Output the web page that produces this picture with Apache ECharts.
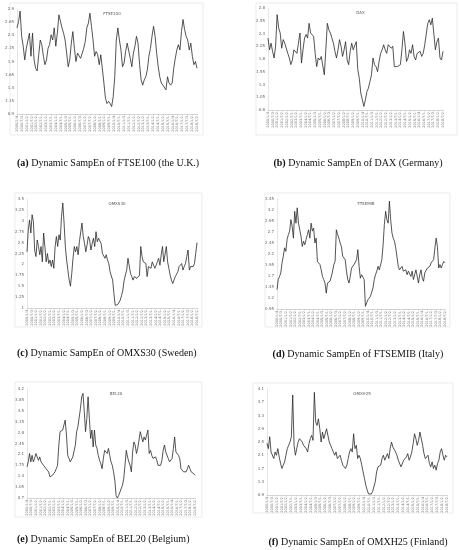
<!DOCTYPE html>
<html>
<head>
<meta charset="utf-8">
<script src="https://cdn.jsdelivr.net/npm/echarts/dist/echarts.min.js"></script>
<style>
  html, body { margin: 0; padding: 0; background: #fff; }
  #chart { width: 460px; height: 550px; }
</style>
</head>
<body>
<div id="chart"></div>
<script>
// date tick labels along the bottom of each panel
var tickLabels = ['2000/1/4','2000/7/3','2001/1/2','2001/7/2','2002/1/2','2002/7/1','2003/1/2','2003/7/1',
  '2004/1/2','2004/7/1','2005/1/3','2005/7/1','2006/1/2','2006/7/3','2007/1/2','2007/7/2','2008/1/2',
  '2008/7/1','2009/1/2','2009/7/1','2010/1/4','2010/7/1','2011/1/3','2011/7/1','2012/1/2','2012/7/2',
  '2013/1/2','2013/7/1','2014/1/2','2014/7/1','2015/1/2','2015/7/1','2016/1/4','2016/7/1','2017/1/2',
  '2017/7/3','2018/1/2','2018/7/2'];

var names = ['FTSE100', 'DAX', 'OMXS30', 'FTSEMIB', 'BEL20', 'OMXH25'];
var captions = ['FTSE100 (the U.K.)', 'DAX (Germany)', 'OMXS30 (Sweden)', 'FTSEMIB (Italy)', 'BEL20 (Belgium)', 'OMXH25 (Finland)'];
var letters = ['a', 'b', 'c', 'd', 'e', 'f'];

// y axis ranges [min, max, step]
var yRanges = [[0.9, 2.9, 0.25], [0.8, 2.8, 0.25], [1, 3.5, 0.25], [0.95, 3.45, 0.25], [0.7, 4.2, 0.35], [0.9, 4.1, 0.4]];

// dynamic SampEn values
var ftse100 = [2.54, 2.66, 2.86, 2.38, 2.19, 1.93, 2.15, 2.12, 2.44, 2.0, 2.44, 1.93, 1.77, 1.72, 2.03, 2.31, 2.22, 2.0, 1.84, 1.93,
  2.15, 2.22, 2.41, 2.31, 2.54, 2.19, 2.44, 2.79, 2.79, 2.54, 2.44, 2.31, 2.06, 1.80, 1.93, 2.25, 2.47, 2.15, 1.90, 2.06,
  2.03, 1.96, 1.93, 2.15, 2.28, 2.54, 2.63, 2.82, 2.57, 2.31, 2.0, 2.09, 2.03, 1.84, 2.03, 2.0, 1.49, 1.20, 1.10, 1.14,
  1.10, 1.04, 1.23, 1.61, 2.31, 2.54, 2.31, 2.12, 1.80, 1.87, 2.09, 2.25, 2.28, 1.96, 1.80, 2.06, 2.19, 2.38, 2.25, 1.84,
  1.55, 1.45, 1.55, 1.61, 1.74, 2.0, 2.15, 2.38, 2.57, 2.38, 2.06, 1.80, 1.61, 1.49, 1.45, 1.42, 1.36, 1.61, 1.49, 1.45,
  1.49, 1.77, 1.96, 2.12, 2.22, 2.12, 2.47, 2.70, 2.51, 2.38, 2.31, 2.12, 2.25, 2.0, 1.84, 1.90, 1.77];

var dax = [2.21, 1.98, 2.11, 1.95, 1.82, 2.05, 2.67, 2.41, 2.31, 2.01, 2.18, 2.11, 2.08, 1.91, 1.82, 1.69, 1.78, 1.98, 2.01, 1.91,
  2.11, 2.31, 1.72, 1.98, 2.21, 2.28, 2.21, 2.50, 2.31, 2.34, 2.24, 1.91, 1.65, 1.82, 1.78, 1.85, 1.88, 1.49, 1.98, 2.50,
  2.37, 2.31, 2.34, 2.11, 1.95, 1.82, 1.98, 2.18, 2.05, 1.85, 1.98, 2.14, 1.78, 1.69, 1.95, 2.11, 1.98, 1.98, 2.14, 1.59,
  1.42, 1.13, 1.00, 0.87, 1.00, 1.16, 1.23, 1.36, 1.49, 1.82, 1.69, 1.65, 1.55, 1.75, 1.91, 1.98, 2.08, 1.98, 1.91, 2.08,
  2.11, 2.01, 2.05, 1.65, 1.62, 1.65, 1.65, 1.69, 1.98, 2.34, 2.11, 1.75, 1.82, 1.98, 1.91, 2.08, 1.85, 1.78, 1.91, 1.88,
  1.95, 1.85, 1.91, 2.08, 2.11, 2.50, 2.57, 2.47, 2.60, 2.57, 1.98, 2.14, 2.21, 1.82, 1.78, 1.95];

var omxs30 = [2.29, 2.79, 3.02, 2.72, 3.14, 2.98, 2.33, 2.18, 2.56, 2.41, 2.22, 2.41, 2.06, 2.72, 2.41, 2.06, 2.25, 2.02, 2.10, 1.95,
  2.10, 1.91, 2.41, 2.64, 2.41, 2.68, 2.56, 3.10, 3.41, 2.95, 2.41, 2.10, 1.87, 1.64, 1.50, 1.79, 2.14, 2.41, 2.29, 2.41,
  2.22, 2.52, 2.48, 2.95, 2.64, 2.48, 2.29, 2.45, 2.64, 2.56, 2.33, 2.48, 2.60, 2.41, 2.75, 2.52, 2.60, 2.56, 2.48, 2.25,
  2.29, 2.14, 2.22, 2.10, 2.02, 1.83, 1.87, 1.64, 1.33, 1.06, 1.04, 1.08, 1.06, 1.18, 1.29, 1.41, 1.64, 1.68, 1.87, 2.14,
  2.18, 1.79, 1.72, 1.64, 1.72, 1.75, 1.68, 1.72, 1.75, 2.41, 2.18, 2.06, 2.10, 2.02, 1.72, 1.95, 1.98, 1.91, 2.06, 2.02,
  1.91, 1.98, 2.06, 2.14, 1.98, 2.22, 2.41, 2.06, 2.10, 2.41, 2.06, 1.91, 1.75, 1.64, 1.56, 1.60, 1.72, 1.68, 1.83, 1.95,
  1.98, 2.02, 1.87, 1.95, 2.02, 2.18, 2.33, 1.87, 1.95, 1.98, 1.95, 2.02, 2.25, 2.50];

var ftsemib = [1.39, 1.62, 1.69, 1.77, 2.00, 2.15, 2.34, 2.26, 2.53, 2.64, 2.72, 2.98, 2.83, 2.56, 3.17, 2.90, 3.25, 2.90, 2.75, 2.60,
  2.37, 2.49, 2.41, 2.53, 2.64, 2.75, 2.56, 2.90, 2.72, 2.79, 2.45, 2.56, 2.03, 2.00, 1.96, 1.84, 1.69, 1.62, 1.54, 1.31,
  1.54, 1.58, 1.58, 1.69, 1.81, 1.96, 2.03, 2.75, 2.64, 2.56, 2.45, 2.37, 2.15, 2.11, 2.07, 1.81, 1.62, 1.54, 1.69, 1.88,
  1.92, 1.96, 2.00, 2.07, 2.30, 1.92, 1.65, 1.73, 1.73, 1.62, 1.01, 1.09, 1.16, 1.20, 1.24, 1.28, 1.43, 1.62, 1.73, 1.81,
  1.92, 1.84, 1.88, 2.07, 2.41, 2.87, 3.17, 2.98, 2.90, 3.40, 2.98, 2.68, 2.56, 2.49, 2.34, 2.30, 1.92, 1.84, 1.81, 1.92,
  1.81, 1.77, 1.84, 1.73, 1.81, 1.84, 1.69, 1.81, 1.62, 1.73, 1.84, 1.69, 1.54, 1.73, 1.84, 1.65, 1.58, 1.77, 1.81, 1.88,
  1.84, 1.92, 2.00, 2.03, 2.07, 2.34, 2.56, 2.37, 1.88, 1.96, 1.88, 1.96, 2.03, 2.00];

var bel20 = [1.70, 1.86, 2.13, 1.86, 2.07, 1.86, 1.97, 2.13, 2.07, 1.91, 2.02, 1.86, 1.80, 1.75, 1.80, 1.64, 1.59, 1.54, 1.38, 1.32,
  1.43, 1.48, 1.54, 1.64, 1.75, 2.40, 2.83, 2.88, 2.88, 2.83, 3.20, 2.72, 2.07, 1.97, 1.86, 1.91, 2.02, 2.07, 2.40, 2.83,
  2.99, 3.04, 3.58, 3.95, 4.06, 3.47, 2.83, 3.25, 3.95, 3.25, 2.61, 2.88, 2.34, 2.88, 2.40, 2.29, 2.07, 1.91, 1.80, 1.64,
  1.97, 2.23, 2.23, 2.13, 2.29, 2.07, 1.86, 1.75, 1.54, 1.27, 0.78, 0.70, 0.78, 0.89, 0.95, 1.11, 1.32, 1.75, 2.23, 2.02,
  1.86, 1.75, 1.54, 2.18, 2.50, 2.40, 2.13, 2.29, 2.56, 2.83, 2.66, 2.50, 2.66, 2.56, 2.72, 2.88, 2.13, 2.23, 2.07, 1.97,
  1.91, 2.02, 1.91, 1.75, 1.70, 1.75, 1.91, 2.23, 2.40, 2.18, 2.13, 1.97, 1.86, 1.91, 1.97, 2.29, 2.66, 2.18, 2.23, 2.07,
  1.97, 1.64, 1.59, 1.54, 1.59, 1.54, 1.64, 1.75, 1.64, 1.54, 1.59, 1.48, 1.43];

var omxh25 = [2.46, 2.30, 2.66, 2.20, 2.15, 2.00, 2.20, 2.10, 2.30, 2.05, 1.86, 1.70, 1.80, 1.90, 2.10, 2.30, 2.40, 2.50, 2.66, 3.92,
  2.40, 2.10, 2.16, 2.50, 2.60, 2.55, 2.50, 2.40, 2.35, 2.30, 2.20, 2.45, 2.60, 2.70, 2.55, 4.00, 3.10, 3.00, 3.20, 2.90,
  2.50, 2.80, 2.60, 2.65, 2.90, 2.70, 2.50, 2.40, 2.30, 2.20, 2.10, 2.20, 2.00, 2.05, 2.10, 1.95, 1.80, 1.75, 1.70, 1.80,
  2.00, 2.20, 2.30, 2.20, 2.75, 2.30, 2.40, 2.00, 2.10, 2.00, 1.80, 1.60, 1.40, 1.20, 1.05, 0.93, 0.95, 0.93, 1.00, 1.05,
  1.30, 1.60, 1.75, 1.70, 1.80, 2.00, 2.10, 1.95, 2.05, 2.15, 2.00, 2.30, 2.50, 2.35, 2.40, 2.20, 2.10, 1.95, 1.90, 1.75,
  1.80, 1.95, 1.90, 2.05, 2.15, 1.95, 2.05, 2.20, 2.45, 2.75, 2.60, 2.40, 2.55, 2.80, 2.85, 2.40, 2.15, 2.00, 1.95, 2.10,
  1.85, 1.75, 1.90, 1.70, 1.80, 1.65, 1.85, 1.95, 2.20, 2.30, 2.10, 1.95, 2.10, 2.05];

var seriesData = [ftse100, dax, omxs30, ftsemib, bel20, omxh25];

// layout: plot area [left, top, width, height], outer frame [x, y, w, h], caption [x, y, align]
var plots = [[17, 9, 180, 105], [268, 8, 175, 102], [27, 199, 170, 109], [277, 199, 168, 110], [27, 389, 168, 109], [267, 389, 180, 106]];
var frames = [[10, 3, 193, 132], [256, 3, 201, 132], [15, 193, 187, 134], [265, 193, 185, 134], [15, 382, 187, 135], [253, 383, 200, 130]];
var capPos = [[17, 163, 'left'], [358, 163, 'center'], [17, 353, 'left'], [358, 354, 'center'], [17, 539, 'left'], [358, 542, 'center']];

var myChart = echarts.init(document.getElementById('chart'), null, { renderer: 'canvas' });

var grids = [], xAxes = [], yAxes = [], series = [], titles = [], graphics = [];

for (var k = 0; k < 6; k++) {
  var vals = seriesData[k];
  var n = vals.length;
  var step = (n - 1) / (tickLabels.length - 1);
  var p = plots[k], fr = frames[k], r = yRanges[k];

  graphics.push({
    type: 'rect', silent: true, z: -1,
    shape: { x: fr[0], y: fr[1], width: fr[2], height: fr[3] },
    style: { fill: '#fff', stroke: '#e4e4e4', lineWidth: 0.7 }
  });
  graphics.push({
    type: 'text', silent: true,
    style: {
      x: capPos[k][0], y: capPos[k][1], align: capPos[k][2], verticalAlign: 'middle',
      text: '{b|(' + letters[k] + ')} Dynamic SampEn of ' + captions[k],
      font: '10px "Liberation Serif", serif', fill: '#111',
      rich: { b: { fontWeight: 'bold', fontSize: 10, fontFamily: 'Liberation Serif' } }
    }
  });

  grids.push({ left: p[0], top: p[1], width: p[2], height: p[3], containLabel: false });

  titles.push({
    text: names[k],
    left: p[0] + p[2] / 2, top: p[1] - 2, textAlign: 'center',
    textStyle: { fontSize: 4, fontWeight: 'normal', color: '#555', fontFamily: 'DejaVu Sans' }
  });

  (function (step) {
    xAxes.push({
      type: 'value', gridIndex: k, min: 0, max: n - 1, interval: step,
      axisLine: { show: true, lineStyle: { color: '#bbb', width: 0.6 } },
      axisTick: { show: true, length: 1.5, lineStyle: { color: '#bbb', width: 0.5 } },
      splitLine: { show: false },
      axisLabel: {
        rotate: 90, fontSize: 3.5, color: '#777', margin: 2, fontFamily: 'DejaVu Sans',
        showMinLabel: true, showMaxLabel: true,
        formatter: function (v) { return tickLabels[Math.round(v / step)] || ''; }
      }
    });
  })(step);

  yAxes.push({
    type: 'value', gridIndex: k, min: r[0], max: r[1], interval: r[2],
    axisLine: { show: true, lineStyle: { color: '#ccc', width: 0.5 } },
    axisTick: { show: false },
    splitLine: { show: false },
    axisLabel: {
      fontSize: 4, color: '#666', margin: 3, fontFamily: 'DejaVu Sans',
      formatter: function (v) { return +v.toFixed(2) + ''; }
    }
  });

  series.push({
    type: 'line', xAxisIndex: k, yAxisIndex: k,
    data: vals.map(function (v, i) { return [i, v]; }),
    symbol: 'none', animation: false,
    lineStyle: { color: '#2a2a2a', width: 0.8 }
  });
}

var option = {
  backgroundColor: '#fff',
  animation: false,
  title: titles,
  grid: grids,
  xAxis: xAxes,
  yAxis: yAxes,
  series: series,
  graphic: graphics
};

myChart.setOption(option);
</script>
</body>
</html>
